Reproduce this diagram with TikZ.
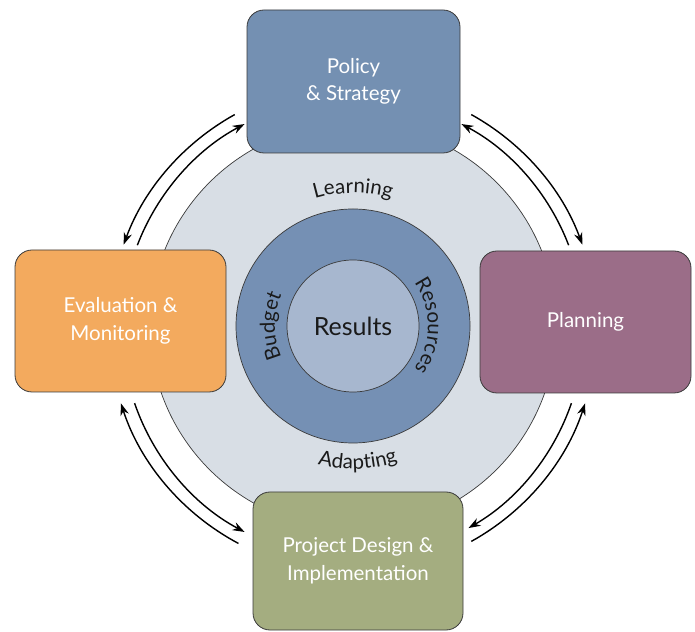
\documentclass[tikz,border=0pt]{standalone}
\usepackage{fontspec}
\setmainfont{Lato}
\usetikzlibrary{arrows.meta,decorations.text}
\definecolor{polblue}{HTML}{7490B2}
\definecolor{ringblue}{HTML}{7590B4}
\definecolor{innerblue}{HTML}{A7B7CF}
\definecolor{lightc}{HTML}{D8DEE5}
\definecolor{evalorange}{HTML}{F3AA5E}
\definecolor{planmauve}{HTML}{9B6D88}
\definecolor{projgreen}{HTML}{A4AD80}
\definecolor{boxline}{HTML}{3A3A3A}
\definecolor{lbl}{HTML}{1A1A1A}
\newcommand{\lblfont}{\fontsize{20.5}{22}\selectfont\color{lbl}}
\begin{document}
\begin{tikzpicture}[x=1pt,y=1pt,
  box/.style={draw=boxline, line width=0.8pt, rounded corners=17pt, text=white,
    align=center, font=\fontsize{20.5}{27.5}\selectfont, inner sep=0pt},
  disc/.style={circle, draw=boxline, line width=0.7pt, inner sep=0pt},
  cyc/.style={line width=1.4pt, -{Stealth[length=12pt,width=8.5pt]}},
  arclabel/.style={decorate, decoration={text along path, text align=center, text={|\lblfont|#1}}}
]
\useasboundingbox (0,0) rectangle (695,631);
\coordinate (c) at (353,305);
\coordinate (ac) at (353,303);

% circles
\node[disc, fill=lightc, minimum size=406pt] (bg) at (c) {};
\node[disc, fill=ringblue, minimum size=234pt] (ring) at (c) {};
\node[disc, fill=innerblue, minimum size=132pt, font=\fontsize{25}{27}\selectfont, text=lbl] (res) at (c) {Results};

% circular labels
\path[arclabel=Learning] ([shift={(128:133)}]c) arc[start angle=128, end angle=52, radius=133];
\path[arclabel=Adapting] ([shift={(234:143)}]c) arc[start angle=234, end angle=310, radius=143];
\path[arclabel=Budget] ([shift={(218:78)}]c) arc[start angle=218, end angle=142, radius=78];
\path[arclabel=Resources] ([shift={(48:75)}]c) arc[start angle=48, end angle=-48, radius=75];

% boxes
\node[box, fill=polblue, minimum width=213pt, minimum height=143pt] (pol) at (353.5,549.5) {Policy\\\& Strategy};
\node[box, fill=evalorange, minimum width=211pt, minimum height=142pt] (eval) at (120.5,310) {Evaluation \&\\Monitoring};
\node[box, fill=planmauve, minimum width=211pt, minimum height=142pt] (plan) at (585.5,309) {Planning};
\node[box, fill=projgreen, minimum width=210pt, minimum height=138pt] (proj) at (358,70) {Project Design \&\\Implementation};

% cycle arrows
\draw[cyc] ([shift={(119:244)}]ac) arc[start angle=119, end angle=160, radius=244];
\draw[cyc] ([shift={(159:231)}]ac) arc[start angle=159, end angle=118, radius=231];
\draw[cyc] ([shift={(61:244)}]ac) arc[start angle=61, end angle=20, radius=244];
\draw[cyc] ([shift={(21:231)}]ac) arc[start angle=21, end angle=62, radius=231];
\draw[cyc] ([shift={(299:244)}]ac) arc[start angle=299, end angle=342, radius=244];
\draw[cyc] ([shift={(341:231)}]ac) arc[start angle=341, end angle=300, radius=231];
\draw[cyc] ([shift={(242:244)}]ac) arc[start angle=242, end angle=198, radius=244];
\draw[cyc] ([shift={(199:231)}]ac) arc[start angle=199, end angle=242, radius=231];
\end{tikzpicture}
\end{document}
